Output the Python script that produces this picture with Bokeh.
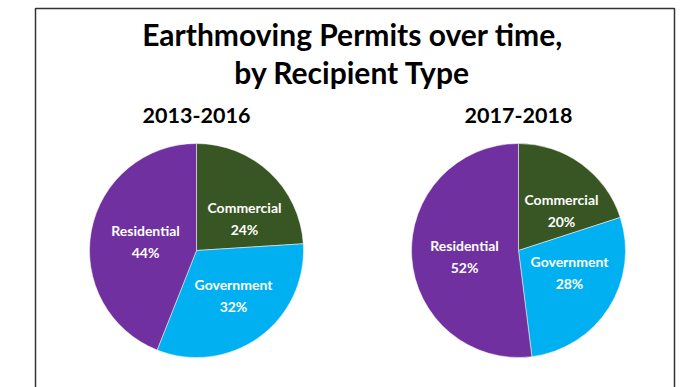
import numpy as np
from bokeh.plotting import figure
from bokeh.models import Range1d, ColumnDataSource
from bokeh.core.properties import value
from bokeh.embed import file_html
from bokeh.resources import INLINE

# Permit shares (%) by recipient type, clockwise from 12 o'clock
categories = ["Commercial", "Government", "Residential"]
shares_2013_2016 = [24, 32, 44]
shares_2017_2018 = [20, 28, 52]
period_labels = ["2013-2016", "2017-2018"]
colors = ["#375623", "#00B0F0", "#7030A0"]

W, H = 687, 387
FONT = value("Lato")

p = figure(width=W, height=H, output_backend="svg", toolbar_location=None,
           x_range=Range1d(0, W), y_range=Range1d(0, H), min_border=0)
p.axis.visible = False
p.grid.visible = False
p.outline_line_color = None
p.background_fill_color = "white"
p.border_fill_color = "white"

def Y(y):
    return H - y

# outer frame
p.quad(left=[35], right=[674], top=[Y(8)], bottom=[Y(420)],
       fill_color=None, line_color="#333333", line_width=1.5)

# title
p.text(x=[352, 352], y=[Y(33), Y(71)],
       text=["Earthmoving Permits over time,", "by Recipient Type"],
       text_font=FONT, text_font_style="bold", text_font_size="30px",
       text_align="center", text_baseline="middle", text_color="black")

centers = [(196, 250), (518, 250)]
radius = 107
label_pos = [
    [(244, 218), (233, 295), (145, 241)],
    [(561, 210), (569, 272), (464, 256)],
]

for k, shares in enumerate([shares_2013_2016, shares_2017_2018]):
    cx, cy = centers[k]
    frac = np.array(shares, dtype=float) / sum(shares)
    ends = np.cumsum(frac) * 2 * np.pi
    starts = np.concatenate([[0.0], ends[:-1]])
    # clockwise from the top
    src = ColumnDataSource(dict(
        start=np.pi / 2 - ends,
        end=np.pi / 2 - starts,
        color=colors,
    ))
    p.wedge(x=cx, y=Y(cy), radius=radius, start_angle="start", end_angle="end",
            fill_color="color", line_color="white", line_width=0.5, source=src)

    p.text(x=[cx], y=[Y(115)], text=[period_labels[k]], text_font=FONT,
           text_font_style="bold", text_font_size="21.5px",
           text_align="center", text_baseline="middle", text_color="black")

    lx = [pt[0] for pt in label_pos[k]]
    ly = [Y(pt[1]) for pt in label_pos[k]]
    txt = [f"{c}\n{s}%" for c, s in zip(categories, shares)]
    p.text(x=lx, y=ly, text=txt, text_font=FONT, text_font_style="bold",
           text_font_size="14px", text_align="center", text_baseline="middle",
           text_color="white", text_line_height=1.35)

open("out.html", "w").write(file_html(p, INLINE))
